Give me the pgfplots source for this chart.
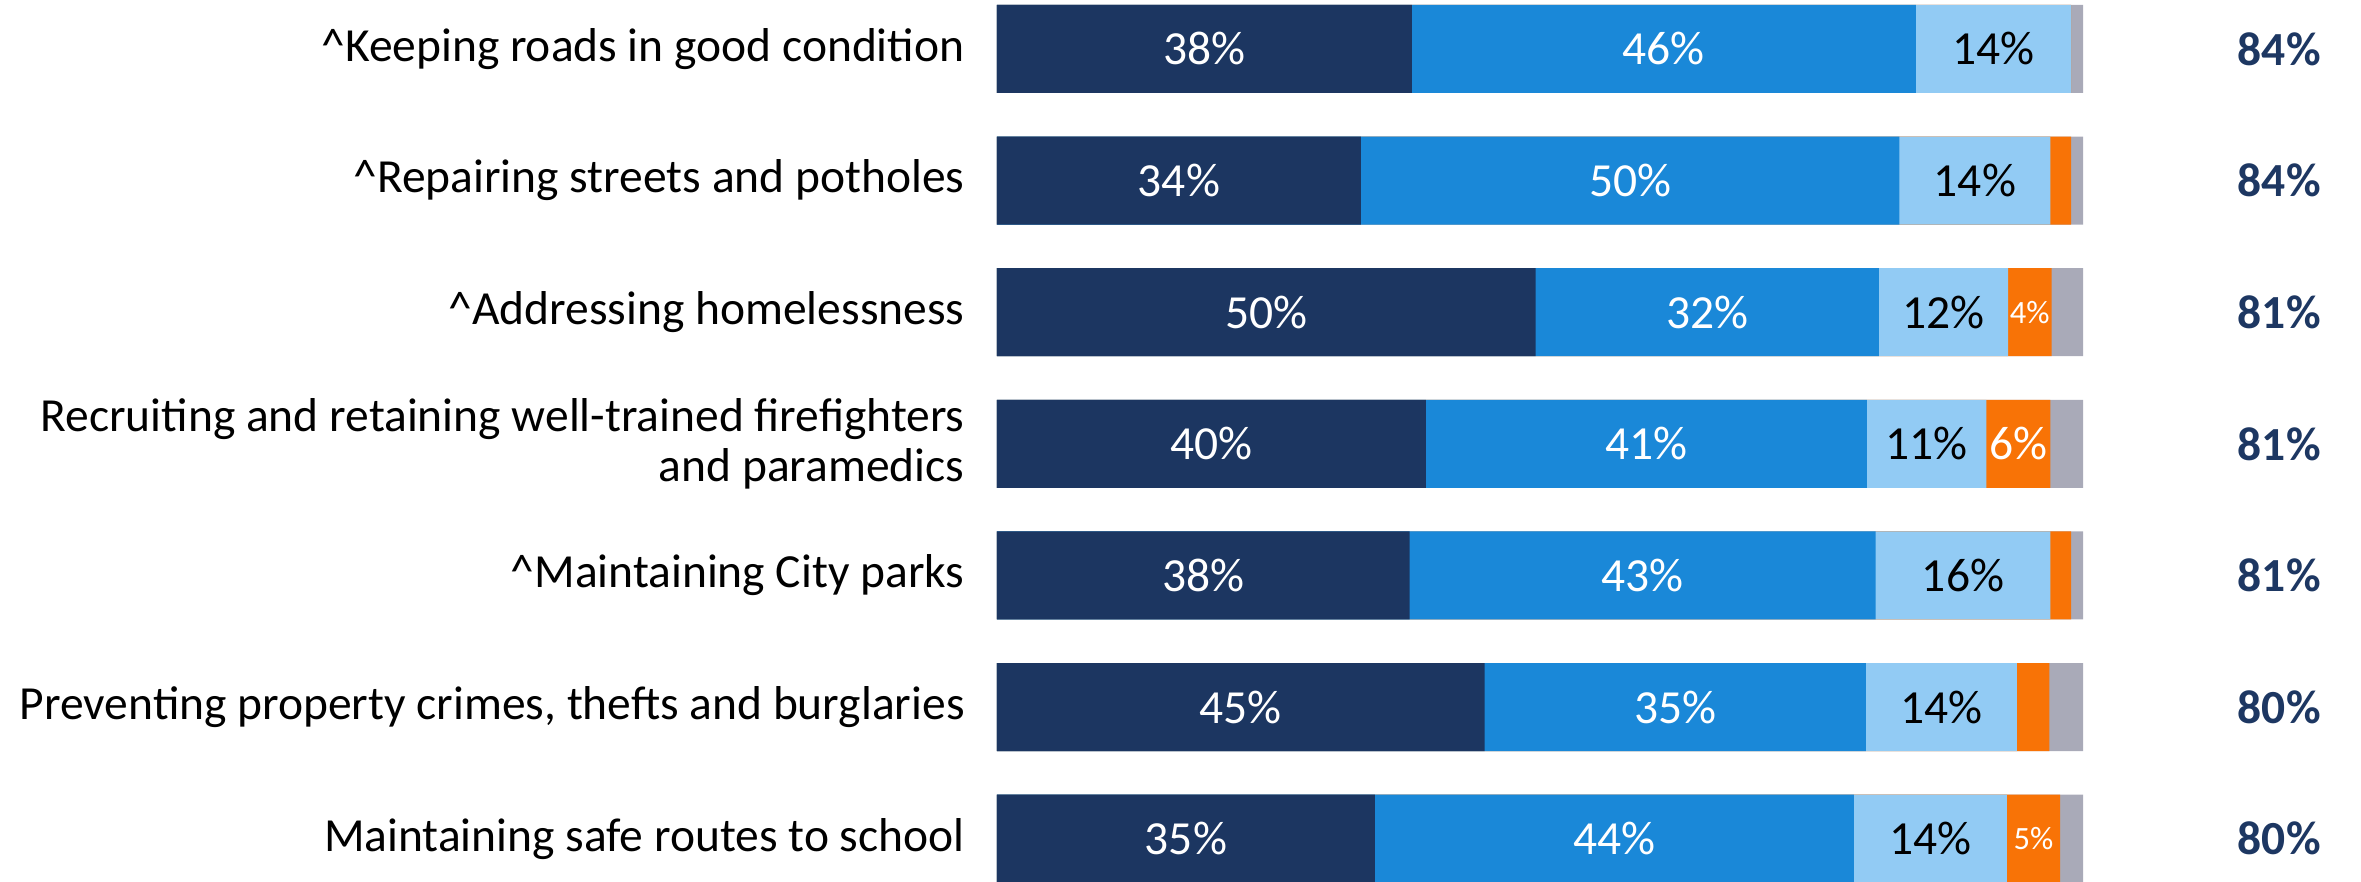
\documentclass[border=0pt]{standalone}
\usepackage{fontspec}
\setmainfont{Carlito}
\usepackage{pgfplots}
\usepackage{pgfplotstable}
\pgfplotsset{compat=1.18}
\definecolor{cdark}{HTML}{1C3661}
\definecolor{cmid}{HTML}{1A88D8}
\definecolor{clight}{HTML}{92CBF4}
\definecolor{corange}{HTML}{F87306}
\definecolor{cgray}{HTML}{A9AAB8}
\definecolor{ctotal}{HTML}{1D3762}
\pgfplotstableread{
id a b c d e
0 38.2 46.4 14.3 0.0 1.1
1 33.5 49.6 13.9 1.9 1.1
2 49.6 31.6 11.9 4.0 2.9
3 39.5 40.6 11.0 5.9 3.0
4 38.0 42.9 16.1 1.9 1.1
5 44.9 35.1 13.9 3.0 3.1
6 34.8 44.1 14.1 4.9 2.1
}\datatable
\pgfplotstablecreatecol[expr={\thisrow{a}+\thisrow{b}}]{ab}\datatable
\pgfplotstablecreatecol[expr={\thisrow{ab}+\thisrow{c}}]{abc}\datatable
\pgfplotstablecreatecol[expr={\thisrow{abc}+\thisrow{d}}]{abcd}\datatable
\pgfplotstablecreatecol[expr={\thisrow{abcd}+\thisrow{e}}]{tot}\datatable
\pgfplotstablecreatecol[expr={\thisrow{a}/2}]{ma}\datatable
\pgfplotstablecreatecol[expr={\thisrow{a}+\thisrow{b}/2}]{mb}\datatable
\pgfplotstablecreatecol[expr={\thisrow{ab}+\thisrow{c}/2}]{mc}\datatable
\newcommand{\bigf}{\fontsize{19}{20}\selectfont}
\begin{document}
\begin{tikzpicture}
\begin{axis}[
  at={(0,0)}, anchor=south west,
  scale only axis,
  width=434.4pt, height=352.8pt,
  xmin=0, xmax=100,
  ymin=-0.372, ymax=6.329,
  y dir=reverse,
  clip=false,
  axis x line=none,
  axis y line*=left,
  y axis line style={draw=none},
  ytick style={draw=none},
  major tick length=0pt,
  ytick={0,1,2,3,4,5,6},
  yticklabels={
    {\textasciicircum Keeping roads in good condition},
    {\textasciicircum Repairing streets and potholes},
    {\textasciicircum Addressing homelessness},
    {Recruiting and retaining well-trained firefighters\\and paramedics},
    {\textasciicircum Maintaining City parks},
    {Preventing property crimes, thefts and burglaries},
    {Maintaining safe routes to school}},
  yticklabel style={anchor=east, align=right, inner sep=0pt, xshift=-12.8pt, font=\bigf, text=black},
  /pgf/number format/assume math mode=true,
  every axis plot/.append style={xbar, bar shift=0pt, bar width=35.2pt, draw=none},
]
\addplot[fill=cgray] table[x=tot, y=id] {\datatable};
\addplot[fill=corange] table[x=abcd, y=id] {\datatable};
\addplot[fill=clight] table[x=abc, y=id] {\datatable};
\addplot[fill=cmid] table[x=ab, y=id] {\datatable};
\addplot[fill=cdark] table[x=a, y=id] {\datatable};
% segment labels
\addplot[draw=none, fill=none, no marks, point meta=explicit,
  nodes near coords={\pgfmathprintnumber[fixed, precision=0]{\pgfplotspointmeta}\%},
  nodes near coords style={anchor=center, text=white, font=\bigf}]
  table[x=ma, y=id, meta=a] {\datatable};
\addplot[draw=none, fill=none, no marks, point meta=explicit,
  nodes near coords={\pgfmathprintnumber[fixed, precision=0]{\pgfplotspointmeta}\%},
  nodes near coords style={anchor=center, text=white, font=\bigf}]
  table[x=mb, y=id, meta=b] {\datatable};
\addplot[draw=none, fill=none, no marks, point meta=explicit,
  nodes near coords={\pgfmathprintnumber[fixed, precision=0]{\pgfplotspointmeta}\%},
  nodes near coords style={anchor=center, text=black, font=\bigf}]
  table[x=mc, y=id, meta=c] {\datatable};
\addplot[draw=none, fill=none, no marks, point meta=explicit symbolic,
  nodes near coords, nodes near coords style={anchor=center, text=white, font=\bigf}]
  coordinates {(94.05,3) [6\%]};
\addplot[draw=none, fill=none, no marks, point meta=explicit symbolic,
  nodes near coords, nodes near coords style={anchor=center, text=white, font=\fontsize{13}{15}\selectfont}]
  coordinates {(95.1,2) [4\%] (95.45,6) [5\%]};
% totals
\addplot[draw=none, fill=none, no marks, point meta=explicit symbolic,
  nodes near coords, nodes near coords style={anchor=east, text=ctotal, font=\bigf\bfseries}]
  coordinates {(122.7,0) [84\%] (122.7,1) [84\%] (122.7,2) [81\%] (122.7,3) [81\%] (122.7,4) [81\%] (122.7,5) [80\%] (122.7,6) [80\%]};
\end{axis}
\pgfresetboundingbox
\useasboundingbox (-398.8pt,0pt) rectangle (545.6pt,352.8pt);
\end{tikzpicture}
\end{document}
